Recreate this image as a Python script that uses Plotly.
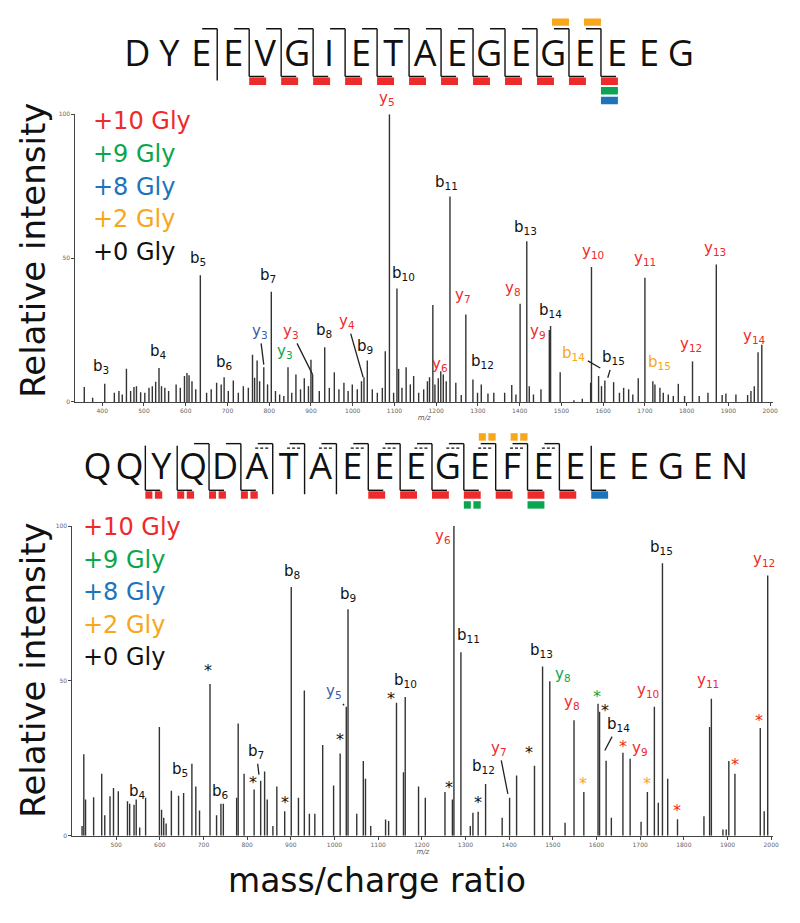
import plotly.graph_objects as go

# ---------------- data ----------------
# Spectrum 1 (DYEEVGIETAEGEGEEEG): m/z and relative intensity
top_mz = [357, 377, 406, 429, 440, 448, 458, 468, 476, 482, 492, 502, 512, 520, 528, 536, 542, 550, 559,
          577, 587, 597, 603, 608, 615, 624, 635, 650, 661, 674, 685, 692, 702, 714, 726, 738, 750, 760,
          765, 771, 777, 787, 796, 805, 815, 825, 835, 845, 854, 864, 875, 884, 894, 900, 904, 920, 933,
          944, 956, 967, 979, 989, 999, 1011, 1021, 1027, 1035, 1047, 1059, 1071, 1078, 1088, 1098, 1106,
          1110, 1118, 1128, 1138, 1146, 1158, 1170, 1179, 1184, 1192, 1197, 1205, 1211, 1217, 1224, 1233,
          1247, 1260, 1271, 1288, 1299, 1308, 1324, 1338, 1364, 1381, 1391, 1401, 1417, 1423, 1433, 1451,
          1471, 1474, 1497, 1530, 1550, 1570, 1572, 1589, 1596, 1604, 1625, 1639, 1649, 1661, 1671, 1684,
          1700, 1719, 1724, 1736, 1744, 1756, 1768, 1780, 1795, 1814, 1830, 1851, 1871, 1885, 1894, 1918,
          1946, 1954, 1962, 1971, 1980]
top_int = [5.2, 1.5, 6.3, 3.2, 3.8, 2.6, 11.5, 3.8, 5.2, 5.5, 3.4, 3.2, 4.9, 5.5, 7.0, 11.8, 5.5, 4.9, 3.8,
           6.1, 4.9, 9.0, 10.1, 9.3, 7.2, 4.4, 44.0, 3.2, 4.4, 6.7, 6.1, 8.6, 3.8, 7.5, 3.2, 5.5, 4.9, 16.4,
           8.4, 14.4, 7.2, 12.1, 6.1, 38.3, 3.8, 2.6, 2.1, 12.1, 3.2, 9.5, 4.4, 8.2, 5.5, 14.7, 9.5, 3.8, 19.0,
           4.9, 10.3, 4.4, 6.7, 3.8, 6.1, 4.4, 7.2, 8.6, 14.4, 4.4, 3.2, 4.9, 17.6, 100, 3.2, 39.4,
           11.5, 4.9, 12.1, 6.1, 9.0, 3.2, 4.4, 7.2, 8.6, 33.7, 6.1, 8.2, 10.7, 9.5, 7.2, 71.4,
           6.7, 2.4, 30.4, 7.8, 3.2, 6.1, 2.9, 3.2, 3.2, 5.9, 2.6, 34.1, 55.8, 5.5, 2.6, 4.4,
           25.0, 26.4, 10.3, 0.6, 1.1, 6.7, 46.9, 9.0, 5.5, 7.5, 6.9, 3.2, 4.9, 4.4, 2.6, 8.2,
           43.2, 7.2, 6.1, 4.9, 3.2, 2.6, 2.1, 6.3, 2.1, 14.1, 2.1, 3.2, 47.8, 2.4, 2.9, 2.6,
           2.4, 3.8, 5.5, 17.3, 19.9]

# Spectrum 2 (QQYQDATAEEEGEFEEEEGEN)
bot_mz = [422, 426, 430, 448.5, 467, 474, 486, 494, 505, 526, 531, 541, 546, 554, 567.5, 599, 604, 609,
          614.5, 626.5, 643, 654.5, 673.5, 682.5, 691, 715, 730, 740, 745.5, 776, 779.5, 793, 816, 831,
          840, 846, 859, 868, 886, 901, 917.5, 931, 942.5, 955, 973, 998, 1013, 1027, 1031, 1051, 1066,
          1071, 1083, 1117, 1124, 1142, 1158, 1162, 1192.5, 1208, 1253, 1270, 1273.5, 1289.5, 1311, 1317,
          1329, 1346, 1384, 1401, 1417, 1458, 1476.5, 1493, 1528, 1548.5, 1571, 1603.5, 1607, 1622, 1634,
          1660.5, 1677, 1702, 1716.5, 1732.5, 1741.5, 1751, 1763, 1785.5, 1846, 1859, 1863, 1889.5, 1897,
          1903, 1917, 1975, 1984, 1992]
bot_int = [3.1, 26.3, 11.7, 12.4, 20.0, 6.6, 12.7, 15.4, 14.3, 11.1, 10.3, 10.0, 11.7, 2.6, 12.2, 35.1, 8.4, 5.8,
           3.9, 14.5, 12.9, 13.8, 23.2, 15.9, 8.1, 49.0, 6.6, 10.3, 10.3, 12.2, 36.2, 20.0, 14.9, 17.7,
           20.7, 11.7, 3.1, 15.9, 7.9, 80.3, 12.2, 46.9, 7.1, 7.1, 29.3, 16.2, 26.5, 41.6, 73.1, 7.1, 24.1,
           18.4, 3.1, 5.2, 4.7, 42.9, 20.5, 44.8, 15.9, 12.2, 14.1, 11.7, 100, 59.2, 3.1, 7.4,
           7.7, 16.7, 5.8, 12.2, 19.4, 22.6, 54.6, 49.9, 4.2, 37.3, 14.1, 42.6, 40.0, 24.2, 5.8,
           26.8, 24.8, 4.5, 14.1, 41.6, 10.6, 88.0, 18.4, 5.3, 6.3, 35.1, 44.2, 2.0, 2.0,
           24.1, 20.0, 34.8, 7.9, 84.0]

top_xticks = list(range(400, 2001, 100))
bot_xticks = list(range(500, 2001, 100))
y_ticks = [0, 50, 100]

legend_labels = ["+10 Gly", "+9 Gly", "+8 Gly", "+2 Gly", "+0 Gly"]
legend_keys = ["+10", "+9", "+8", "+2", "+0"]

# ion labels: (ion, subscript, series, m/z, rel. intensity, pointer tip m/z, pointer tip intensity)
top_labels = [
    ("b", "3", "+0", 397, 12.4, None, None), ("b", "4", "+0", 535.5, 17.6, None, None),
    ("b", "5", "+0", 629, 49.8, None, None), ("b", "6", "+0", 694, 13.6, None, None),
    ("b", "7", "+0", 797, 44.0, None, None), ("b", "8", "+0", 932, 25.0, None, None),
    ("b", "9", "+0", 1028.5, 19.3, None, None),
    ("y", "3", "+8", 777, 24.5, 787, 13.0), ("y", "3", "+9", 837, 17.6, None, None),
    ("y", "3", "+10", 852.5, 24.5, 904, 9.5), ("y", "4", "+10", 987, 27.9, 1025, 8.6),
    ("b", "10", "+0", 1122, 44.6, None, None), ("y", "5", "+10", 1082.5, 105.5, None, None),
    ("y", "6", "+10", 1209, 13.0, None, None), ("b", "11", "+0", 1225, 76.2, None, None),
    ("y", "7", "+10", 1264, 37.1, None, None), ("b", "12", "+0", 1312, 14.1, None, None),
    ("y", "8", "+10", 1383, 39.4, None, None), ("b", "13", "+0", 1413, 60.7, None, None),
    ("b", "14", "+0", 1474.5, 31.9, None, None), ("y", "9", "+10", 1444, 24.5, None, None),
    ("b", "14", "+2", 1530, 17.0, 1593, 11.8), ("b", "15", "+0", 1625, 15.3, 1611, 8.4),
    ("y", "10", "+10", 1575, 52.3, None, None), ("b", "15", "+2", 1736, 13.6, None, None),
    ("y", "11", "+10", 1700, 49.8, None, None), ("y", "12", "+10", 1811, 19.9, None, None),
    ("y", "13", "+10", 1867, 53.2, None, None), ("y", "14", "+10", 1962, 22.8, None, None),
]
bot_labels = [
    ("b", "4", "+0", 548.5, 14.3, None, None), ("b", "5", "+0", 647, 21.3, None, None),
    ("b", "6", "+0", 740, 14.1, None, None), ("b", "7", "+0", 821, 27.1, 827, 19.7),
    ("b", "8", "+0", 903, 85.3, None, None), ("b", "9", "+0", 1030, 77.9, None, None),
    ("y", "5", "+8", 999, 46.4, 1022, 42.1), ("b", "10", "+0", 1162, 50.1, None, None),
    ("y", "6", "+10", 1249, 96.6, None, None), ("b", "11", "+0", 1306, 64.5, None, None),
    ("b", "12", "+0", 1341.7, 22.3, None, None), ("y", "7", "+10", 1376.5, 28.2, 1397, 13.5),
    ("b", "13", "+0", 1475, 59.7, None, None), ("y", "8", "+9", 1523.5, 52.2, None, None),
    ("y", "8", "+10", 1544.7, 43.1, None, None), ("b", "14", "+0", 1650, 35.8, 1619, 27.5),
    ("y", "9", "+10", 1698.5, 28.2, None, None), ("y", "10", "+10", 1719, 46.9, None, None),
    ("b", "15", "+0", 1749.3, 93.1, None, None), ("y", "11", "+10", 1855.4, 50.1, None, None),
    ("y", "12", "+10", 1984.1, 89.3, None, None),
]
# unassigned-peak stars: (series, m/z, intensity)
bot_stars = [("+0", 711.4, 53.3), ("+0", 813.7, 17.2), ("+0", 885.7, 10.6), ("+0", 1013, 31.1),
             ("+0", 1130.4, 44.2), ("+0", 1263, 15.4), ("+0", 1328.8, 10.6), ("+0", 1446.2, 26.8),
             ("+0", 1620, 40.5), ("+2", 1569.7, 17.0), ("+2", 1715.2, 16.7), ("+9", 1601.6, 45.1),
             ("+10", 1660, 28.8), ("+10", 1783.4, 8.1), ("+10", 1916, 22.9), ("+10", 1971.3, 37.3)]

# peptide sequences and fragment coverage (site k = cleavage after residue k)
seq_top = list("DYEEVGIETAEGEGEEEG")
top_b_sites = list(range(3, 16))
top_b_double = []
top_y_marks = [("+10", list(range(4, 16)), False), ("+9", [15], False), ("+8", [15], False)]
top_b_marks = [("+2", [14, 15], False)]

seq_bot = list("QQYQDATAEEEGEFEEEEGEN")
bot_b_sites = [4, 5]
bot_b_double = list(range(6, 16))
bot_y_marks = [("+10", [2, 3, 4, 5], True), ("+10", list(range(9, 16)), False),
               ("+9", [12], True), ("+9", [14], False), ("+8", [16], False)]
bot_b_marks = [("+2", [13, 14], True)]

# ---------------- style ----------------
COL = {"+10": "#EE2A2A", "+9": "#0AA54E", "+8": "#1C74BD", "+2": "#F8A61C", "+0": "#111111"}
LABEL_COL = dict(COL)
LABEL_COL["+8"] = "#3B5BAA"
FONT = "DejaVu Sans"
SEQFONT = "Open Sans, sans-serif"
W, H = 800, 923


def py(p):
    return 1 - p / H


fig = go.Figure()


def stems(mz, inten):
    xs, ys = [], []
    for m, h in zip(mz, inten):
        xs += [m, m, None]
        ys += [0, h, None]
    return xs, ys


xs, ys = stems(top_mz, top_int)
fig.add_trace(go.Scatter(x=xs, y=ys, mode="lines", line=dict(color="#333333", width=1.4),
                         xaxis="x", yaxis="y", hoverinfo="skip"))
xs, ys = stems(bot_mz, bot_int)
fig.add_trace(go.Scatter(x=xs, y=ys, mode="lines", line=dict(color="#333333", width=1.4),
                         xaxis="x2", yaxis="y2", hoverinfo="skip"))

# ---------------- sequence diagrams ----------------
shapes = []


def draw_sequence(letters, b_sites, b_double, y_marks, b_marks, xa, ya, top_y, bot_y, bar_h, bar_gap):
    n = len(letters)
    fig.add_trace(go.Scatter(x=list(range(n)), y=[0] * n, mode="text", text=letters,
                             textfont=dict(family=SEQFONT, size=36, color="#111111"),
                             textposition="middle center", xaxis=xa, yaxis=ya, hoverinfo="skip"))
    y_sites = sorted({k for _, ks, _ in y_marks for k in ks})
    all_b = sorted(set(b_sites) | set(b_double))
    sites = sorted(set(all_b) | set(y_sites))
    lx, ly, dx, dy = [], [], [], []
    hook = 0.47
    for k in sites:
        s = k - 0.5
        t = top_y if k in all_b else top_y - 2
        b = bot_y if k in y_sites else bot_y - 4
        lx += [s, s, None]
        ly += [t, b, None]
        if k in all_b:
            lx += [s - hook, s, None]
            ly += [top_y, top_y, None]
        if k in b_double:
            dx += [s - hook - 0.08, s - 0.08, None]
            dy += [top_y - 4.5, top_y - 4.5, None]
        if k in y_sites:
            lx += [s, s + hook, None]
            ly += [bot_y, bot_y, None]
    fig.add_trace(go.Scatter(x=lx, y=ly, mode="lines", line=dict(color="#111111", width=1.4),
                             xaxis=xa, yaxis=ya, hoverinfo="skip"))
    if dx:
        fig.add_trace(go.Scatter(x=dx, y=dy, mode="lines", line=dict(color="#111111", width=1.4, dash="3px,2px"),
                                 xaxis=xa, yaxis=ya, hoverinfo="skip"))

    def bar(x0, x1, y0, y1, col, dashed):
        parts = [(x0, x0 + 0.22), (x0 + 0.30, x1)] if dashed else [(x0, x1)]
        for a, c in parts:
            shapes.append(dict(type="rect", xref=xa, yref=ya, x0=a, x1=c, y0=y0, y1=y1,
                               fillcolor=col, line=dict(width=0), layer="above"))

    level = {}
    for key, ks, dashed in y_marks:
        for k in ks:
            lv = level.get(k, 0)
            level[k] = lv + 1
            s = k - 0.5
            y1 = bot_y - 1 - lv * bar_gap
            bar(s, s + 0.53, y1 - bar_h, y1, COL[key], dashed)
    for key, ks, dashed in b_marks:
        for k in ks:
            s = k - 0.5
            bar(s - 0.53, s, top_y + 3, top_y + 3 + bar_h, COL[key], dashed)


draw_sequence(seq_top, top_b_sites, top_b_double, top_y_marks, top_b_marks, "x3", "y3", 28, -20, 7.5, 9.7)
draw_sequence(seq_bot, bot_b_sites, bot_b_double, bot_y_marks, bot_b_marks, "x4", "y4", 27, -20, 7.5, 10)

# ---------------- annotations ----------------
ann = []


def ion_text(ion, sub):
    return f"{ion}<sub>{sub}</sub>"


def add_labels(labels, xr, yr):
    for ion, sub, key, x, y, tx, ty in labels:
        f = dict(family=FONT, size=15, color=LABEL_COL[key])
        if tx is None:
            # labels above the top of the axis are anchored at its top edge and shifted up
            yy = min(y, 100)
            shift = (y - yy) * 2.9
            ann.append(dict(x=x, y=yy, xref=xr, yref=yr, text=ion_text(ion, sub), showarrow=False,
                            font=f, xanchor="center", yanchor="middle", yshift=shift))
        else:
            ann.append(dict(x=tx, y=ty, xref=xr, yref=yr, ax=x, ay=y, axref=xr, ayref=yr,
                            text=ion_text(ion, sub), showarrow=True, arrowhead=0, arrowwidth=1.3,
                            arrowcolor="#222222", standoff=0, startstandoff=1, font=f))


add_labels(top_labels, "x", "y")
add_labels(bot_labels, "x2", "y2")
for key, x, y in bot_stars:
    ann.append(dict(x=x, y=y, xref="x2", yref="y2", text="*", showarrow=False,
                    font=dict(family=FONT, size=16, color=COL[key]), xanchor="center", yanchor="middle"))

# legends (colour key)
for i, (lab, key) in enumerate(zip(legend_labels, legend_keys)):
    ann.append(dict(x=373, y=97.6 - 11.4 * i, xref="x", yref="y", text=lab, showarrow=False,
                    font=dict(family=FONT, size=24, color=COL[key]), xanchor="left", yanchor="middle"))
    ann.append(dict(x=420, y=99.6 - 10.5 * i, xref="x2", yref="y2", text=lab, showarrow=False,
                    font=dict(family=FONT, size=24, color=COL[key]), xanchor="left", yanchor="middle"))

# axis titles
for yc in (248, 671):
    ann.append(dict(x=33 / W, y=py(yc), xref="paper", yref="paper", text="Relative intensity",
                    textangle=-90, showarrow=False, font=dict(family=FONT, size=34, color="#111111"),
                    xanchor="center", yanchor="middle"))
ann.append(dict(x=380 / W, y=py(883), xref="paper", yref="paper", text="mass/charge ratio",
                showarrow=False, font=dict(family=FONT, size=33, color="#111111"),
                xanchor="center", yanchor="middle"))

axis_common = dict(showline=True, linecolor="#444444", linewidth=1.1, ticks="outside", ticklen=3,
                   tickcolor="#444444", tickfont=dict(family=FONT, size=6, color="#666666"),
                   showgrid=False, zeroline=False, fixedrange=True)

fig.update_layout(
    width=W, height=H, margin=dict(l=0, r=0, t=0, b=0),
    paper_bgcolor="white", plot_bgcolor="rgba(0,0,0,0)", showlegend=False,
    xaxis=dict(domain=[76 / W, 779 / W], range=[335.8, 2007.2], anchor="y", tickvals=top_xticks,
               title=dict(text="<i>m/z</i>", font=dict(family=FONT, size=7, color="#555555"), standoff=1),
               **axis_common),
    yaxis=dict(domain=[py(401), py(111)], range=[0, 100], anchor="x", tickvals=y_ticks, **axis_common),
    xaxis2=dict(domain=[73 / W, 779 / W], range=[400, 2004.5], anchor="y2", tickvals=bot_xticks,
                title=dict(text="<i>m/z</i>", font=dict(family=FONT, size=7, color="#555555"), standoff=1),
                **axis_common),
    yaxis2=dict(domain=[py(838), py(526)], range=[0, 100], anchor="x2", tickvals=y_ticks, **axis_common),
    xaxis3=dict(domain=[0, 1], range=[-138.3 / 32.22, (W - 138.3) / 32.22], anchor="y3", visible=False,
                fixedrange=True),
    yaxis3=dict(domain=[py(110), 1], range=[-57, 53], anchor="x3", visible=False, fixedrange=True),
    xaxis4=dict(domain=[0, 1], range=[-98.3 / 32.09, (W - 98.3) / 32.09], anchor="y4", visible=False,
                fixedrange=True),
    yaxis4=dict(domain=[py(520), py(400)], range=[-50, 70], anchor="x4", visible=False, fixedrange=True),
    shapes=shapes,
    annotations=ann,
)

fig.write_html("out.html", config={"displayModeBar": False, "staticPlot": True},
               post_script="document.body.style.margin='0';document.body.style.overflow='hidden';")
